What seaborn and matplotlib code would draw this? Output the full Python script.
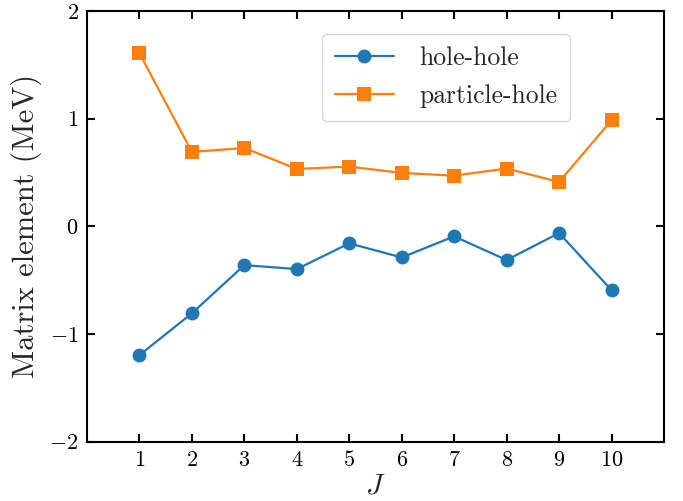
import matplotlib
matplotlib.use("Agg")
import matplotlib.pyplot as plt
import numpy as np
import pandas as pd
import seaborn as sns

J = [1, 2, 3, 4, 5, 6, 7, 8, 9, 10]
hole_hole = [-1.196, -0.807, -0.360, -0.397, -0.158, -0.289, -0.093, -0.313, -0.062, -0.593]
particle_hole = [1.607, 0.691, 0.728, 0.533, 0.555, 0.496, 0.471, 0.537, 0.412, 0.986]
series_names = ["hole-hole", "particle-hole"]

sns.set_theme(style="ticks")
plt.rcParams.update({
    "font.family": "serif",
    "font.serif": ["cmr10"],
    "mathtext.fontset": "cm",
    "axes.formatter.use_mathtext": True,
    "axes.unicode_minus": True,
    "xtick.direction": "in",
    "ytick.direction": "in",
    "xtick.top": True,
    "ytick.right": True,
    "xtick.major.size": 6,
    "ytick.major.size": 6,
    "xtick.major.width": 1.5,
    "ytick.major.width": 1.5,
    "axes.linewidth": 1.5,
    "axes.edgecolor": "black",
    "xtick.color": "black",
    "ytick.color": "black",
})

df = pd.DataFrame({
    "J": J * 2,
    "value": hole_hole + particle_hole,
    "kind": [series_names[0]] * len(J) + [series_names[1]] * len(J),
})

fig = plt.figure(figsize=(6.83, 5.01), dpi=100)
ax = fig.add_axes([87 / 683, 1 - 441.7 / 501, 577 / 683, 430.7 / 501])

sns.lineplot(data=df, x="J", y="value", hue="kind", style="kind",
             markers=["o", "s"], dashes=False, markersize=10,
             markeredgewidth=0, linewidth=1.6,
             palette=["#1f77b4", "#ff7f0e"], ax=ax)

ax.set_xlim(0, 11)
ax.set_ylim(-2, 2)
ax.set_xticks(J)
ax.set_yticks([-2, -1, 0, 1, 2])
ax.tick_params(labelsize=16, pad=6)
ax.set_xlabel(r"$J$", fontsize=21, labelpad=2)
ax.set_ylabel("Matrix element (MeV)", fontsize=22, labelpad=5)

leg = ax.legend(loc="upper left", bbox_to_anchor=(0.407, 0.947),
                borderaxespad=0, fontsize=18.5,
                frameon=True, fancybox=True, framealpha=0.8,
                handlelength=2.3, borderpad=0.5, labelspacing=0.55,
                handletextpad=1.0)
leg.get_frame().set_edgecolor("#cccccc")

fig.savefig("out.png", dpi=100)
